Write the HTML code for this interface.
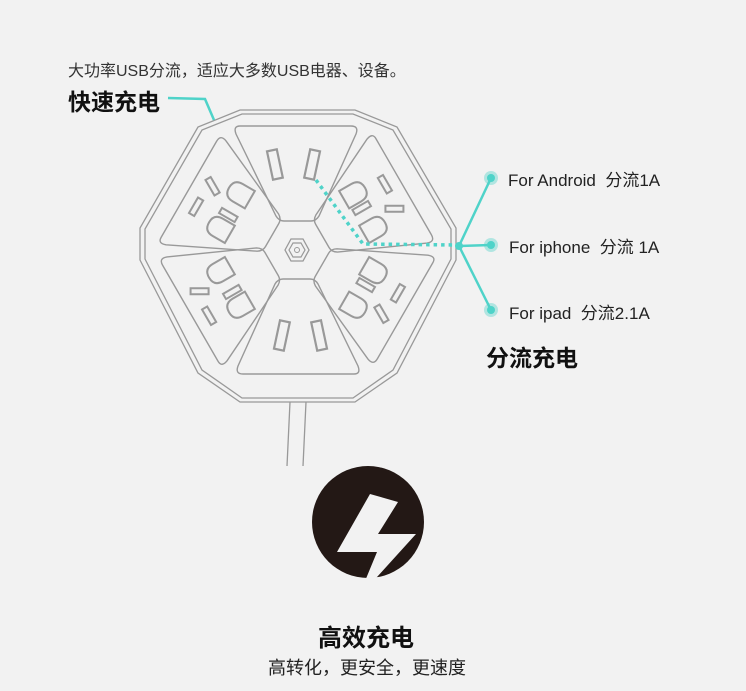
<!DOCTYPE html>
<html><head><meta charset="utf-8"><style>
html,body{margin:0;padding:0;background:#f2f2f2;}
body{width:746px;height:691px;position:relative;overflow:hidden;font-family:"Liberation Sans","Noto Sans CJK SC",sans-serif;color:#222;}
.t{position:absolute;white-space:nowrap;}
</style></head><body>
<svg width="746" height="691" style="position:absolute;left:0;top:0">
<defs>
<g id="seg">
<path d="M-57,-124 L54,-124 Q62,-124 59,-116 L22,-34 Q19,-29 14,-29 L-13,-29 Q-18,-29 -21,-34 L-61,-116 Q-64,-124 -57,-124 Z" fill="none" stroke="#999" stroke-width="1.4"/>
</g>
<g id="two">
<rect x="-27" y="-100" width="10" height="29" transform="rotate(-12 -22 -85)" fill="none" stroke="#999" stroke-width="2.2"/>
<rect x="10" y="-100" width="10" height="29" transform="rotate(12 15 -85)" fill="none" stroke="#999" stroke-width="2.2"/>
</g>
<g id="three" fill="none" stroke="#999" stroke-width="2">
<rect x="-22" y="-112" width="18" height="6"/>
<rect x="10" y="-114" width="6" height="18" transform="rotate(30 13 -105)"/>
<path d="M-30,-66 L-30,-80 Q-30,-90 -20,-90 Q-10,-90 -10,-80 L-10,-66 Z"/>
<path d="M10,-66 L10,-80 Q10,-90 20,-90 Q30,-90 30,-80 L30,-66 Z"/>
<rect x="-7" y="-86" width="6" height="18"/>
</g>
</defs>
<polygon points="240,110 355,110 397,127 456,228 456,260 397,373 355,402 240,402 198,373 140,260 140,228 198,127" fill="none" stroke="#999" stroke-width="1.3"/>
<polygon points="242,114 353,114 393,130 451,229 451,259 393,370 353,398 242,398 202,370 145,259 145,229 202,130" fill="none" stroke="#999" stroke-width="1.3"/>
<g transform="translate(297,250)">
<use href="#seg"/><use href="#seg" transform="rotate(60)"/><use href="#seg" transform="rotate(120)"/><use href="#seg" transform="rotate(180)"/><use href="#seg" transform="rotate(240)"/><use href="#seg" transform="rotate(300)"/>
<use href="#two"/><use href="#two" transform="rotate(180)"/>
<use href="#three" transform="rotate(60)"/><use href="#three" transform="rotate(120)"/><use href="#three" transform="rotate(240)"/><use href="#three" transform="rotate(300)"/>
<polygon points="-12,0 -6,-11 6,-11 12,0 6,11 -6,11" fill="none" stroke="#999" stroke-width="1.3"/>
<polygon points="-8,0 -4,-7 4,-7 8,0 4,7 -4,7" fill="none" stroke="#999" stroke-width="1.2"/>
<circle r="2.5" fill="none" stroke="#999"/>
</g>
<line x1="290" y1="402" x2="287" y2="466" stroke="#999" stroke-width="1.3"/>
<line x1="306" y1="402" x2="303" y2="466" stroke="#999" stroke-width="1.3"/>
<polyline points="168,98 205,99 214,120" fill="none" stroke="#4fd3c9" stroke-width="2.5"/>
<polyline points="316,180 363,244 457,245" fill="none" stroke="#4fd3c9" stroke-width="3.5" stroke-dasharray="3.5,4"/>
<g stroke="#4fd3c9" stroke-width="2.5" fill="none">
<line x1="459" y1="246" x2="491" y2="178"/><line x1="459" y1="246" x2="491" y2="245"/><line x1="459" y1="246" x2="491" y2="310"/>
</g>
<circle cx="459" cy="246" r="4" fill="#4fd3c9"/>
<g fill="#4fd3c9"><circle cx="491" cy="178" r="7" opacity=".4"/><circle cx="491" cy="178" r="4"/>
<circle cx="491" cy="245" r="7" opacity=".4"/><circle cx="491" cy="245" r="4"/>
<circle cx="491" cy="310" r="7" opacity=".4"/><circle cx="491" cy="310" r="4"/></g>
<circle cx="368" cy="522" r="56" fill="#231815"/>
<polygon points="370,494 398,502 378,534 416,534 358,598 377,552 337,552" fill="#f2f2f2"/>
</svg>
<div class="t" style="left:68px;top:57px;font-size:16px;color:#333">大功率USB分流，适应大多数USB电器、设备。</div>
<div class="t" style="left:68px;top:83px;font-size:23px;font-weight:bold;color:#111">快速充电</div>
<div class="t" style="left:508px;top:166px;font-size:17px;color:#222">For Android&nbsp; 分流1A</div>
<div class="t" style="left:509px;top:233px;font-size:17px;color:#222">For iphone&nbsp; 分流 1A</div>
<div class="t" style="left:509px;top:299px;font-size:17px;color:#222">For ipad&nbsp; 分流2.1A</div>
<div class="t" style="left:486px;top:339px;font-size:23px;font-weight:bold;color:#111">分流充电</div>
<div class="t" style="left:318px;top:618px;font-size:24px;font-weight:bold;color:#111">高效充电</div>
<div class="t" style="left:268px;top:654px;font-size:18px;color:#222">高转化，更安全，更速度</div>
</body></html>
